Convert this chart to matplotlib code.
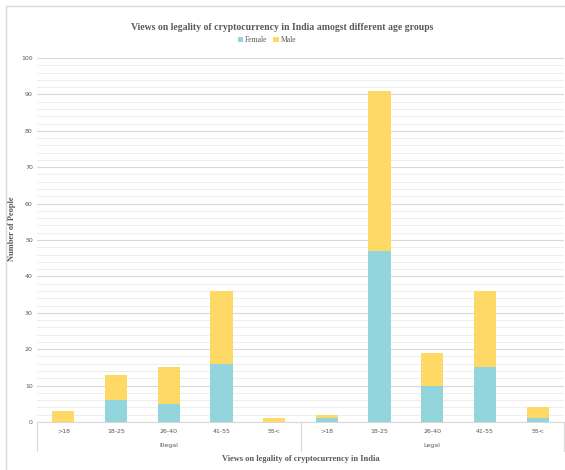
import numpy as np
import matplotlib.pyplot as plt
from matplotlib.patches import Rectangle
from matplotlib.ticker import MultipleLocator

# data
groups = ['Illegal', 'Legal']
ages = ['>18', '18-25', '26-40', '41-55', '55<']
female_illegal = [0, 6, 5, 16, 0]
male_illegal = [3, 7, 10, 20, 1]
female_legal = [1, 47, 10, 15, 1]
male_legal = [1, 44, 9, 21, 3]

female = female_illegal + female_legal
male = male_illegal + male_legal
labels = ages + ages

c_female = '#92D5DC'
c_male = '#FFD966'
serif = 'Liberation Serif'
W, H = 565, 470

fig = plt.figure(figsize=(W / 100, H / 100), dpi=100)
# outer chart border (only top and left edges fall inside the picture)
fig.patches.append(Rectangle((6 / W, -0.1), 1.2, 1 - 6 / H + 0.1, transform=fig.transFigure,
                             fill=False, edgecolor='#d9d9d9', linewidth=1))
ax = fig.add_axes([37 / W, 48 / H, 527 / W, 364 / H])

x = np.arange(len(labels))
ax.bar(x, female, width=0.42, color=c_female, label='Female', zorder=3)
ax.bar(x, male, width=0.42, bottom=female, color=c_male, label='Male', zorder=3)

ax.set_xlim(-0.5, len(labels) - 0.5)
ax.set_ylim(0, 100)
ax.yaxis.set_major_locator(MultipleLocator(10))
ax.yaxis.set_minor_locator(MultipleLocator(2))
ax.grid(axis='y', which='major', color='#d9d9d9', linewidth=0.8, zorder=0)
ax.grid(axis='y', which='minor', color='#eeeeee', linewidth=0.8, zorder=0)
for s in ['top', 'right', 'left']:
    ax.spines[s].set_visible(False)
ax.spines['bottom'].set_color('#d9d9d9')
ax.tick_params(axis='y', which='both', length=0, labelsize=4.5, labelcolor='#595959', pad=3)
ax.tick_params(axis='x', length=0, labelsize=4.5, labelcolor='#595959', pad=5)
ax.set_xticks(x)
ax.set_xticklabels(labels)

# group separators and labels
trans = ax.get_xaxis_transform()
for xs in [-0.5, 4.5, 9.5]:
    ax.plot([xs, xs], [0, -29 / 364], transform=trans, color='#d9d9d9', linewidth=0.8, clip_on=False)
for i, g in enumerate(groups):
    ax.text(2 + 5 * i, -23 / 364, g, transform=trans, ha='center', va='center',
            fontsize=4.5, color='#595959')

ax.set_xlabel('Views on legality of cryptocurrency in India', family=serif, fontsize=6,
              fontweight='bold', color='#595959')
ax.xaxis.set_label_coords(0.5, -33 / 364)
ax.set_ylabel('Number of People', family=serif, fontsize=6, fontweight='bold', color='#595959')
ax.yaxis.set_label_coords(-21 / 527, 0.53)

fig.text(0.5, 1 - 27 / H, 'Views on legality of cryptocurrency in India amogst different age groups',
         ha='center', va='center', family=serif, fontsize=7, fontweight='bold', color='#595959')
leg = ax.legend(loc='center', bbox_to_anchor=((267 - 37) / 527, 1 + 18 / 364),
                ncol=2, frameon=False, handlelength=0.7, handleheight=0.7,
                handletextpad=0.2, columnspacing=0.8, prop={'family': serif, 'size': 5.5})
for t in leg.get_texts():
    t.set_color('#595959')

fig.savefig('out.png', dpi=100)
